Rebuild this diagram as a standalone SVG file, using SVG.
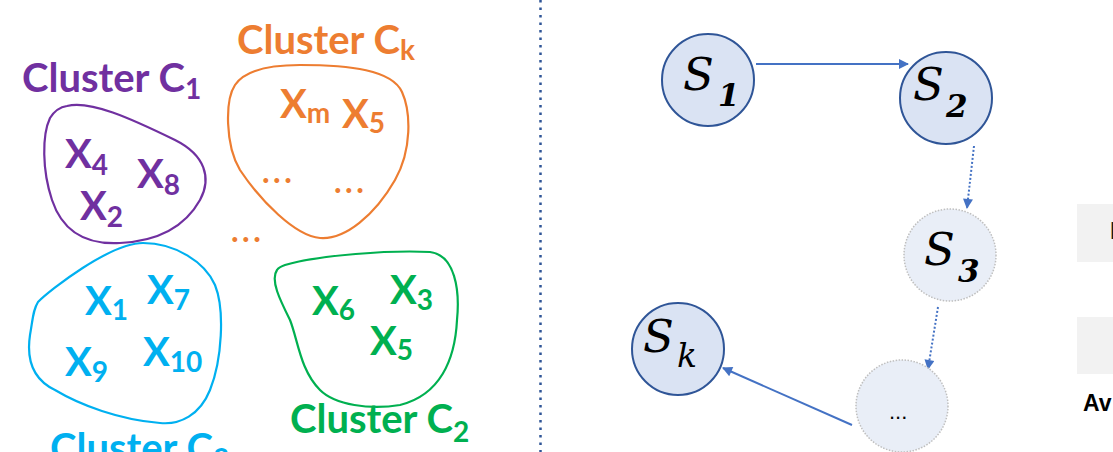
<svg xmlns="http://www.w3.org/2000/svg" width="1113" height="452" viewBox="0 0 1113 452">
<style>
.lbl{font-family:Lato,"Open Sans",sans-serif;font-weight:bold;font-size:40px}
.sub{font-size:28px}
.dd{font-size:32px;letter-spacing:3.5px}
.blob{fill:none;stroke-width:2.2}
.purple{fill:#7030A0}.orange{fill:#ED7D31}.blue{fill:#00B0F0}.green{fill:#00B050}
.st{fill:#DAE3F3;stroke:#2F5597;stroke-width:2}
.dt{fill:#E9EEF7;stroke:#BFBFBF;stroke-width:1.5;stroke-dasharray:1.5 1.5}
.s{font-family:"DejaVu Serif",serif;font-style:italic;font-size:45px;fill:#000}
.ss{font-family:"DejaVu Serif",serif;font-style:italic;font-weight:bold;font-size:31px;fill:#000}
.con{stroke:#4472C4;stroke-width:2;fill:none}
.dot{stroke-dasharray:2 2}
</style>
<defs>
<marker id="ah2" viewBox="0 0 10 10" refX="9" refY="5" markerWidth="13" markerHeight="10" markerUnits="userSpaceOnUse" orient="auto">
<path d="M0,0 L10,5 L0,10 Z" fill="#4472C4"/>
</marker>
</defs>
<rect width="1113" height="452" fill="#fff"/>

<g id="cluster-c1">
<path class="blob" stroke="#7030A0" d="M67,106 C90,100 130,118 175,140 C205,155 212,178 200,200 C186,225 160,241 120,243 C85,245 62,230 52,200 C42,170 42,135 50,118 C55,110 60,107 67,106 Z"/>
<text class="lbl purple" x="22" y="92">Cluster C<tspan class="sub" dy="7">1</tspan></text>
<text class="lbl purple" x="65" y="168">X<tspan class="sub" dy="7">4</tspan></text>
<text class="lbl purple" x="137" y="188">X<tspan class="sub" dy="7">8</tspan></text>
<text class="lbl purple" x="80" y="220">X<tspan class="sub" dy="7">2</tspan></text>
</g>

<g id="cluster-ck">
<path class="blob" stroke="#ED7D31" d="M300,65 C350,65 392,70 402,92 C411,112 412,150 395,180 C375,215 345,240 320,238 C295,236 260,200 240,170 C225,145 225,100 235,85 C245,70 270,65 300,65 Z"/>
<text class="lbl orange" x="237" y="54">Cluster C<tspan class="sub" dy="6">k</tspan></text>
<text class="lbl orange" x="280" y="118">X<tspan class="sub" dy="5">m</tspan></text>
<text class="lbl orange" x="342" y="128">X<tspan class="sub" dy="5">5</tspan></text>
<text class="lbl orange dd" x="262" y="183">...</text>
<text class="lbl orange dd" x="334" y="193">...</text>
<text class="lbl orange dd" x="231" y="242">...</text>
</g>

<g id="cluster-c3">
<path class="blob" stroke="#00B0F0" d="M143,243 C175,243 205,262 215,285 C225,310 222,360 210,390 C200,415 180,425 160,423 C120,420 80,405 55,390 C30,378 27,355 30,335 C33,318 33,310 38,302 C50,290 110,243 143,243 Z"/>
<text class="lbl blue" x="85" y="315">X<tspan class="sub" dy="5">1</tspan></text>
<text class="lbl blue" x="147" y="304">X<tspan class="sub" dy="6">7</tspan></text>
<text class="lbl blue" x="65" y="376">X<tspan class="sub" dy="6">9</tspan></text>
<text class="lbl blue" x="143" y="366">X<tspan class="sub" dy="6">10</tspan></text>
<text class="lbl blue" x="50" y="462">Cluster C<tspan class="sub" dy="7">3</tspan></text>
</g>

<g id="cluster-c2">
<path class="blob" stroke="#00B050" d="M285,265 C320,255 390,250 430,252 C455,255 460,290 457,320 C455,360 440,395 400,405 C370,410 335,405 320,390 C300,370 298,340 290,320 C280,300 270,280 277,270 C279,267 282,266 285,265 Z"/>
<text class="lbl green" x="312" y="315">X<tspan class="sub" dy="5">6</tspan></text>
<text class="lbl green" x="390" y="304">X<tspan class="sub" dy="6">3</tspan></text>
<text class="lbl green" x="370" y="355">X<tspan class="sub" dy="5">5</tspan></text>
<text class="lbl green" x="290" y="433">Cluster C<tspan class="sub" dy="9">2</tspan></text>
</g>

<line x1="540.5" y1="0" x2="540.5" y2="452" stroke="#2F5597" stroke-width="2.5" stroke-dasharray="2.5 5"/>

<g id="connectors">
<line class="con" x1="756" y1="64" x2="908" y2="64" marker-end="url(#ah2)"/>
<line class="con dot" x1="974" y1="146" x2="967" y2="208" marker-end="url(#ah2)"/>
<line class="con dot" x1="938" y1="307" x2="928" y2="369" marker-end="url(#ah2)"/>
<line class="con" x1="852" y1="425" x2="723" y2="368" marker-end="url(#ah2)"/>
</g>

<g id="s1">
<circle class="st" cx="708" cy="80" r="46"/>
<text class="s" x="683" y="90">S</text><text class="ss" x="718" y="106">1</text>
</g>
<g id="s2">
<circle class="st" cx="946" cy="98" r="46"/>
<text class="s" x="913" y="100">S</text><text class="ss" x="946" y="117">2</text>
</g>
<g id="s3">
<circle class="dt" cx="950" cy="255" r="46"/>
<text class="s" x="924" y="265">S</text><text class="ss" x="958" y="282">3</text>
</g>
<g id="sk">
<circle class="st" cx="678" cy="349" r="46"/>
<text class="s" x="643" y="352">S</text><text class="s" x="677" y="367" style="font-size:33px">k</text>
</g>
<g id="sdots">
<circle class="dt" cx="902" cy="406" r="46"/>
<text x="889" y="419" style="font-family:'Liberation Sans',sans-serif;font-size:22px;fill:#000">...</text>
</g>

<g id="right-edge">
<rect x="1077" y="204" width="40" height="58" fill="#F2F2F2"/>
<rect x="1077" y="317" width="40" height="57" fill="#F2F2F2"/>
<text x="1110" y="239" style="font-family:'Liberation Sans',sans-serif;font-weight:bold;font-size:24px;fill:#1a1a1a">I</text>
<text x="1083" y="411" style="font-family:'Liberation Sans',sans-serif;font-weight:bold;font-size:23px;fill:#000">Av</text>
</g>
</svg>
